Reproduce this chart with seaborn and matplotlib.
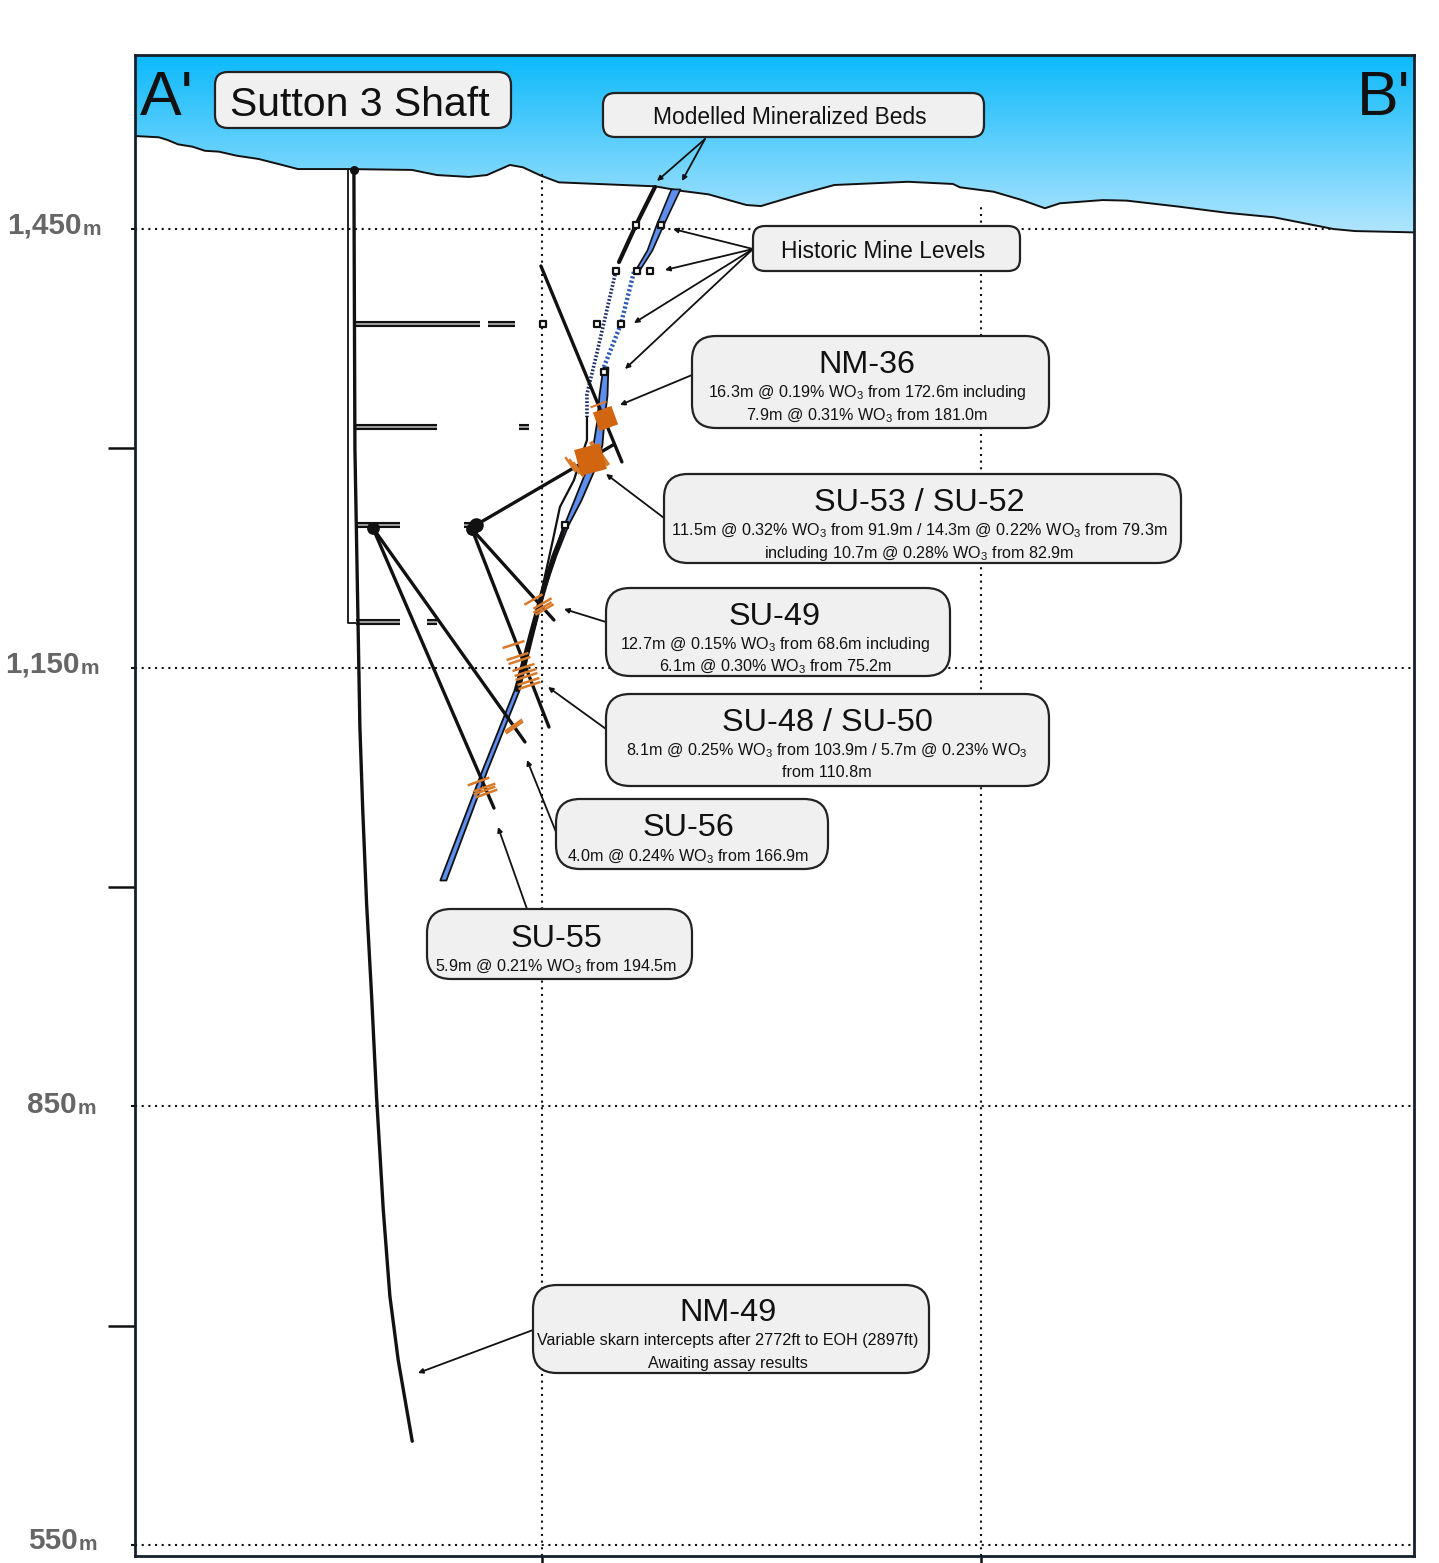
"""Sutton 3 Shaft cross section A'-B' (distance and elevation in metres)."""

import numpy as np
import matplotlib
matplotlib.use('Agg')
import matplotlib.pyplot as plt
import seaborn as sns
from matplotlib.colors import LinearSegmentedColormap
from matplotlib.markers import MarkerStyle
from matplotlib.patches import FancyBboxPatch
from matplotlib.transforms import Affine2D

elev_ticks_labelled = [1450, 1150, 850, 550]
elev_ticks_plain = [1300, 1000, 700]
dist_ticks = [300, 600]

terrain_d = [21.7, 38.1, 43.9, 51.1, 61.0, 69.5, 79.1, 91.4, 106.2, 120.8, 133.1, 167.3, 211.1,
             228.2, 250.1, 262.4, 278.1, 287.0, 299.3, 311.6, 377.3, 394.4, 413.9, 439.9, 449.8,
             478.9, 500.0, 550.3, 581.1, 585.9, 608.9, 628.3, 644.0, 654.3, 683.7, 700.0,
             735.6, 768.2, 800.6, 841.3, 856.0, 896.4]
terrain_z = [1513.6, 1512.7, 1510.9, 1507.9, 1506.3, 1503.5, 1502.9, 1500.1, 1497.9, 1494.2,
             1491.0, 1491.0, 1490.4, 1486.9, 1485.6, 1486.9, 1493.8, 1492.2, 1486.5, 1481.9,
             1479.2, 1476.2, 1473.7, 1466.4, 1465.7, 1474.4, 1480.1, 1482.3, 1480.8, 1478.5,
             1475.5, 1469.8, 1464.2, 1467.6, 1469.8, 1469.4, 1465.3, 1461.1, 1458.0, 1450.0,
             1448.6, 1447.7]

shaft_left_d = [167.3, 167.3, 172.8]
shaft_left_z = [1490.3, 1180.5, 1180.5]

nm49_d = [171.4, 172.1, 174.2, 175.5, 177.4, 180.1, 183.5, 186.9, 191.5, 196.0, 201.7, 211.3]
nm49_z = [1490.3, 1300.0, 1182.6, 1109.4, 1054.0, 988.4, 925.8, 856.4, 779.1, 720.3, 676.5, 621.0]

drift_z = [1385.0, 1385.0, 1314.6, 1314.6, 1247.6, 1247.6, 1181.2, 1181.2]
drift_start = [172.8, 263.1, 172.8, 284.3, 172.8, 246.7, 172.8, 221.4]
drift_end = [257.6, 281.5, 228.2, 291.1, 202.9, 252.1, 202.9, 228.2]

workings_d = [350.6, 365.0, 373.9, 300.7, 337.6, 354.0, 342.4, 364.3, 381.4, 315.7]
workings_z = [1421.3, 1421.3, 1421.3, 1385.0, 1385.0, 1385.0, 1352.2, 1452.7, 1452.7, 1247.6]

shaft_collar_d, shaft_collar_z = [171.4], [1490.3]
station_collars_d, station_collars_z = [184.4, 252.1], [1245.5, 1244.8]
su53_collar_d, su53_collar_z = [254.9], [1247.6]

nm36_d, nm36_z = [299.3, 354.7], [1424.7, 1290.7]
su53_d, su53_z = [254.9, 348.6], [1247.6, 1302.3]
su49_d, su49_z = [252.1, 308.2], [1244.8, 1182.6]
su48_d, su48_z = [252.1, 304.8], [1244.8, 1109.4]
su56_d, su56_z = [184.4, 288.4], [1245.5, 1099.2]
su55_d, su55_z = [184.4, 267.2], [1245.5, 1054.0]

bed_west_solid_d = [377.3, 364.3, 352.7]
bed_west_solid_z = [1478.7, 1452.7, 1427.4]
bed_west_dotted_d = [350.6, 337.6, 330.8, 330.8]
bed_west_dotted_z = [1421.3, 1365.2, 1337.1, 1321.4]
bed_west_lower_d = [330.8, 330.8, 328.0, 321.9, 312.3, 307.5, 300.7, 295.9]
bed_west_lower_z = [1321.4, 1305.7, 1297.5, 1278.3, 1259.9, 1237.3, 1206.5, 1182.6]

bed_east_top_z = [1477.4, 1452.7, 1435.6, 1420.6]
bed_east_top_left = [388.2, 378.0, 371.8, 362.9]
bed_east_top_right = [394.4, 382.8, 375.2, 365.7]
bed_east_dotted_d = [362.9, 354.0, 342.4]
bed_east_dotted_z = [1420.6, 1385.0, 1355.6]
bed_east_z = [1355.6, 1336.5, 1319.4, 1302.3, 1285.2, 1264.7, 1247.6, 1227.0, 1203.1,
              1175.8, 1134.7, 1080.0, 1004.8]
bed_east_left = [341.7, 339.0, 337.6, 334.9, 330.1, 321.9, 315.0, 306.8, 299.3, 291.8,
                 280.9, 259.0, 230.2]
bed_east_right = [345.1, 344.5, 342.4, 341.0, 335.6, 326.7, 317.8, 309.6, 301.4, 294.5,
                  284.3, 262.4, 234.3]
bed_east_contact_d = [315.7, 305.5, 298.6, 291.8, 282.9]
bed_east_contact_z = [1247.6, 1216.8, 1192.9, 1168.9, 1134.7]

wide_intercepts_d = [343.1, 332.8]
wide_intercepts_z = [1320.7, 1292.7]

ticks_su53a_d, ticks_su53a_z = [319.1, 321.9, 324.6], [1289.3, 1287.9, 1285.9]
ticks_su53b_d, ticks_su53b_z = [337.6, 340.4], [1298.2, 1295.4]
ticks_nm36_d, ticks_nm36_z = [338.3], [1330.3]
ticks_su49_d, ticks_su49_z = [293.6, 300.0, 300.0, 301.4], [1197.0, 1194.2, 1191.5, 1190.1]
ticks_su48_d = [280.2, 282.9, 284.3, 287.0, 288.4, 289.1, 290.4, 291.1]
ticks_su48_z = [1166.2, 1158.0, 1155.2, 1150.5, 1147.0, 1144.3, 1140.9, 1138.1]
ticks_su56_d, ticks_su56_z = [280.9, 280.2], [1109.4, 1110.8]
ticks_su55_d, ticks_su55_z = [256.2, 260.3, 260.3, 261.7], [1072.5, 1068.4, 1066.3, 1064.3]

# ---- colours ----
INK = '#111111'
BLUE_BED = '#5f8fee'
ORANGE = '#d2650f'
ORANGE_TICK = '#d87a2c'
BOX_FILL = '#f0f0f0'
GREY_LABEL = '#666666'

sns.set_theme(style='white')
plt.rcParams['font.family'] = ['Liberation Sans', 'DejaVu Sans']
plt.rcParams['mathtext.default'] = 'regular'

W, H = 1439, 1563
fig = plt.figure(figsize=(W / 100, H / 100), dpi=100)
ax = fig.add_axes([135 / W, 1 - 1556 / H, 1279 / W, 1501 / H])
XLIM = (21.7, 896.4)
YLIM = (542.5, 1569.0)

# layout of annotations is given in image pixels
IMG = Affine2D().scale(1, -1).translate(0, H)


def draw_line(d, z, **kw):
    kw.setdefault('color', INK)
    sns.lineplot(x=d, y=z, sort=False, estimator=None, ax=ax, **kw)


def draw_ticks(d, z, angle, length_px, lw=1.8):
    marker = MarkerStyle('_', transform=Affine2D().rotate_deg(angle))
    size = (length_px * 0.72) ** 2
    ax.scatter(d, z, marker=marker, s=size, color=ORANGE_TICK, linewidths=lw, zorder=6)


def draw_box(x0, y0, x1, y1, radius):
    pad = radius
    ax.add_patch(FancyBboxPatch(
        (x0 + pad, y0 + pad), x1 - x0 - 2 * pad, y1 - y0 - 2 * pad,
        boxstyle=f'round,pad={pad},rounding_size={radius}',
        transform=IMG, facecolor=BOX_FILL, edgecolor='#222222', linewidth=1.6,
        zorder=8, clip_on=False,
    ))


def put_text(x, y, s, size, **kw):
    kw.setdefault('ha', 'center')
    kw.setdefault('va', 'center')
    kw.setdefault('color', INK)
    # centred text sits a little high because of the descender box
    ax.text(x, y + 0.14 * size, s, transform=IMG, fontsize=size, zorder=9, clip_on=False, **kw)


def leader(x0, y0, x1, y1):
    ax.annotate('', xy=(x1, y1), xytext=(x0, y0), xycoords=IMG, textcoords=IMG,
                arrowprops=dict(arrowstyle='-|>', color=INK, lw=1.3, mutation_scale=7,
                                shrinkA=0, shrinkB=0),
                zorder=7)


# sky gradient clipped to the area above the ground surface
sky_cmap = LinearSegmentedColormap.from_list('sky', ['#0bb9fb', '#b4e6fe'])
sky = ax.imshow(np.linspace(0, 1, 256).reshape(-1, 1), cmap=sky_cmap, aspect='auto',
                extent=[XLIM[0], XLIM[1], 1445, YLIM[1]], origin='upper', zorder=0)
sky_shape = ax.fill(terrain_d + [XLIM[1], XLIM[0]], terrain_z + [YLIM[1], YLIM[1]],
                    facecolor='none', edgecolor='none')[0]
sky.set_clip_path(sky_shape)

# dotted reference grid
dot_style = dict(color=INK, linewidth=1.5, linestyle=(0, (1, 2.2)), zorder=1)
ax.plot([XLIM[0], 841.0], [elev_ticks_labelled[0]] * 2, **dot_style)
for elev in elev_ticks_labelled[1:]:
    ax.axhline(elev, **dot_style)
ax.plot([dist_ticks[0]] * 2, [YLIM[0], 1489.0], **dot_style)
ax.plot([dist_ticks[1]] * 2, [YLIM[0], 1466.0], **dot_style)

draw_line(terrain_d, terrain_z, linewidth=1.4, zorder=2)

# shaft and historic drifts
draw_line(shaft_left_d, shaft_left_z, linewidth=1.3, zorder=3)
for z, start, end in zip(drift_z, drift_start, drift_end):
    draw_line([start, end], [z, z], linewidth=4.4, solid_capstyle='butt', zorder=3)
    draw_line([start, end], [z, z], linewidth=1.2, color='#b4b4b4', solid_capstyle='butt', zorder=3)

# mineralized beds
ax.fill_betweenx(bed_east_top_z, bed_east_top_left, bed_east_top_right,
                 facecolor=BLUE_BED, edgecolor=INK, linewidth=1.2, zorder=3)
ax.fill_betweenx(bed_east_z, bed_east_left, bed_east_right,
                 facecolor=BLUE_BED, edgecolor=INK, linewidth=1.3, zorder=3)
draw_line(bed_east_dotted_d, bed_east_dotted_z, linewidth=3.2, color='#2f5bb8',
          linestyle=(0, (0.5, 0.5)), zorder=3)
draw_line(bed_west_solid_d, bed_west_solid_z, linewidth=3.0, zorder=3)
draw_line(bed_west_dotted_d, bed_west_dotted_z, linewidth=2.6, color='#1f2f66',
          linestyle=(0, (0.5, 0.5)), zorder=3)
draw_line(bed_west_lower_d, bed_west_lower_z, linewidth=1.6, zorder=3)
draw_line(bed_east_contact_d, bed_east_contact_z, linewidth=2.8, zorder=4)

# drill holes
draw_line(nm49_d, nm49_z, linewidth=2.4, zorder=5)
for hole_d, hole_z in [(nm36_d, nm36_z), (su53_d, su53_z), (su49_d, su49_z),
                       (su48_d, su48_z), (su56_d, su56_z), (su55_d, su55_z)]:
    draw_line(hole_d, hole_z, linewidth=2.4, zorder=5)

sns.scatterplot(x=workings_d, y=workings_z, marker='s', s=16, facecolor='white',
                edgecolor=INK, linewidth=1.6, ax=ax, zorder=5)
for collar_d, collar_z, area in [(shaft_collar_d, shaft_collar_z, 42),
                                 (station_collars_d, station_collars_z, 85),
                                 (su53_collar_d, su53_collar_z, 110)]:
    sns.scatterplot(x=collar_d, y=collar_z, marker='o', s=area, color=INK, linewidth=0,
                    ax=ax, zorder=5)

# assay intercepts
draw_ticks(ticks_su53a_d, ticks_su53a_z, -55, 18)
draw_ticks(ticks_su53b_d, ticks_su53b_z, -55, 24, lw=3)
for d, z, area, angle in zip(wide_intercepts_d, wide_intercepts_z, [200, 370], [20, 15]):
    ax.scatter([d], [z], marker=MarkerStyle('s', transform=Affine2D().rotate_deg(angle)),
               s=area, color=ORANGE, linewidths=0, zorder=6)
draw_ticks(ticks_nm36_d, ticks_nm36_z, 20, 17, lw=1.5)
draw_ticks(ticks_su49_d, ticks_su49_z, 30, 21)
draw_ticks(ticks_su48_d, ticks_su48_z, 18, 23)
draw_ticks(ticks_su56_d, ticks_su56_z, 35, 21)
draw_ticks(ticks_su55_d, ticks_su55_z, 20, 23)

# axes, frame and ticks
ax.set_xlim(*XLIM)
ax.set_ylim(*YLIM)
ax.set_xticks(dist_ticks)
ax.set_yticks(elev_ticks_plain)
ax.set_yticks(elev_ticks_labelled, minor=True)
ax.set_xticklabels([])
ax.set_yticklabels([])
ax.tick_params(axis='y', which='major', left=True, length=19.5, width=1.8, color=INK)
ax.tick_params(axis='y', which='minor', left=True, length=3, width=1.5, color=INK)
ax.tick_params(axis='x', which='major', bottom=True, length=7, width=1.8, color=INK)
for spine in ax.spines.values():
    spine.set_visible(True)
    spine.set_color('#14202b')
    spine.set_linewidth(2.0)
    spine.set_zorder(10)

# elevation labels, number and smaller unit
for label, right, y in [('1,450', 82, 223), ('1,150', 80, 662), ('850', 77, 1102), ('550', 78, 1538)]:
    put_text(right, y, label, 21.3, ha='right', fontweight='bold', color=GREY_LABEL)
    put_text(right + 1, y + 4, 'm', 15, ha='left', fontweight='bold', color=GREY_LABEL)

put_text(167, 92, "A'", 45)
put_text(1384, 92, "B'", 45)

draw_box(215, 72, 511, 128, 13)
put_text(360, 101, 'Sutton 3 Shaft', 29.5)
draw_box(603, 93, 984, 137, 12)
put_text(790, 115, 'Modelled Mineralized Beds', 16.4)
draw_box(753, 226, 1020, 271, 12)
put_text(883, 249.5, 'Historic Mine Levels', 16.4)

WO3 = r'WO$_3$'
callouts = [
    (692, 336, 1049, 428, 867, 'NM-36', 362,
     [(391, f'16.3m @ 0.19% {WO3} from 172.6m including'),
      (414, f'7.9m @ 0.31% {WO3} from 181.0m')]),
    (664, 474, 1181, 563, 919, 'SU-53 / SU-52', 500,
     [(529, f'11.5m @ 0.32% {WO3} from 91.9m / 14.3m @ 0.22% {WO3} from 79.3m'),
      (552, f'including 10.7m @ 0.28% {WO3} from 82.9m')]),
    (606, 588, 950, 676, 775, 'SU-49', 614,
     [(643, f'12.7m @ 0.15% {WO3} from 68.6m including'),
      (665, f'6.1m @ 0.30% {WO3} from 75.2m')]),
    (606, 694, 1049, 786, 827, 'SU-48 / SU-50', 720,
     [(749, f'8.1m @ 0.25% {WO3} from 103.9m / 5.7m @ 0.23% {WO3}'),
      (771, 'from 110.8m')]),
    (556, 799, 828, 869, 688, 'SU-56', 825,
     [(855, f'4.0m @ 0.24% {WO3} from 166.9m')]),
    (427, 909, 692, 979, 556, 'SU-55', 936,
     [(965, f'5.9m @ 0.21% {WO3} from 194.5m')]),
    (533, 1285, 929, 1373, 728, 'NM-49', 1310,
     [(1339, 'Variable skarn intercepts after 2772ft to EOH (2897ft)'),
      (1362, 'Awaiting assay results')]),
]
for x0, y0, x1, y1, xc, title, y_title, lines in callouts:
    draw_box(x0, y0, x1, y1, 24)
    put_text(xc, y_title, title, 23.3)
    for y_line, line in lines:
        put_text(xc, y_line, line, 11.6)

for x0, y0, x1, y1 in [(705, 139, 657, 181), (705, 139, 682, 181),
                       (753, 249, 673, 229), (753, 249, 665, 270),
                       (753, 249, 634, 323), (753, 249, 625, 369),
                       (692, 375, 620, 405), (664, 518, 606, 474),
                       (606, 622, 564, 609), (606, 729, 548, 687),
                       (556, 832, 527, 760), (527, 909, 498, 827),
                       (533, 1330, 418, 1373)]:
    leader(x0, y0, x1, y1)

fig.savefig('out.png', dpi=100)
plt.close(fig)
